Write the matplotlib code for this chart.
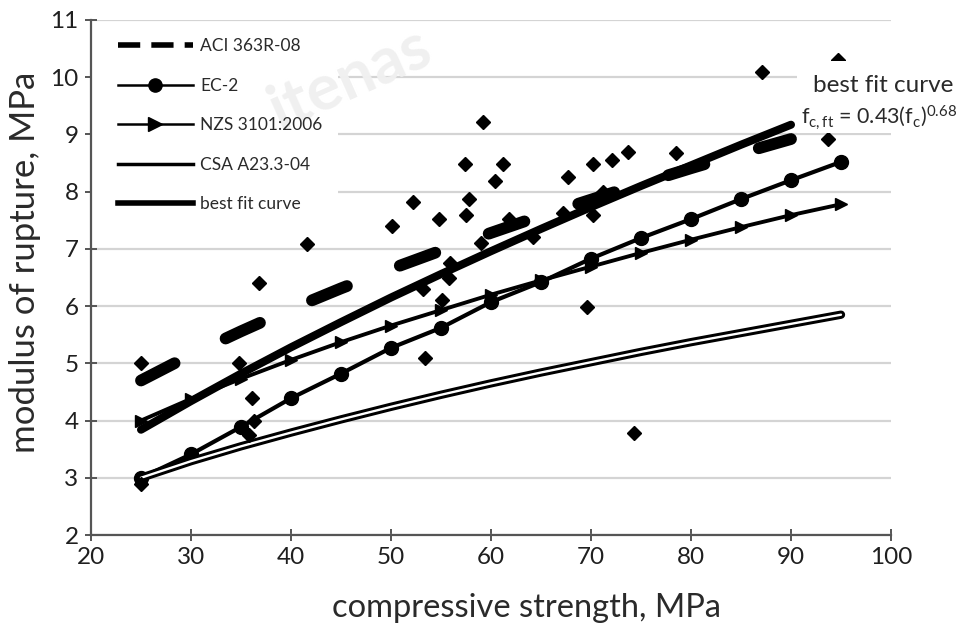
import matplotlib
matplotlib.use("Agg")
import matplotlib.pyplot as plt
from matplotlib.lines import Line2D
from matplotlib.patches import Rectangle

plt.rcParams['font.family'] = ['Lato', 'DejaVu Sans']
plt.rcParams['mathtext.fontset'] = 'custom'
plt.rcParams['mathtext.rm'] = 'Lato'
plt.rcParams['mathtext.it'] = 'Lato'

# ---- data ----
test_x = [25, 25, 34.8, 35.8, 36.3, 36.1, 36.8, 41.6, 50.1, 52.2, 53.2, 53.4, 54.8, 55.1,
          55.8, 55.9, 57.4, 57.5, 57.8, 59.0, 59.2, 60.4, 61.2, 61.8, 64.2, 67.2, 67.7,
          69.6, 70.2, 70.2, 71.2, 72.1, 73.7, 74.3, 78.5, 87.1, 93.7, 94.7]
test_y = [5.0, 2.9, 5.0, 3.75, 4.0, 4.39, 6.4, 7.08, 7.4, 7.82, 6.3, 5.1, 7.53, 6.1,
          6.5, 6.75, 8.49, 7.59, 7.88, 7.1, 9.21, 8.19, 8.49, 7.53, 7.2, 7.62, 8.26,
          5.98, 8.49, 7.59, 8.0, 8.55, 8.7, 3.78, 8.68, 10.09, 8.92, 10.3]

fc_aci = [25, 30, 35, 40, 45, 50, 55, 60, 65, 70, 75, 80, 85, 90]
fr_aci = [4.70, 5.15, 5.56, 5.95, 6.31, 6.65, 6.97, 7.28, 7.58, 7.86, 8.14, 8.41, 8.67, 8.92]

fc_ec2 = [25, 30, 35, 40, 45, 50, 55, 60, 65, 70, 75, 80, 85, 90, 95]
fr_ec2 = [3.0, 3.41, 3.89, 4.39, 4.82, 5.27, 5.62, 6.07, 6.42, 6.83, 7.19, 7.52, 7.87, 8.2, 8.52]

fc_nzs = [25, 30, 35, 40, 45, 50, 55, 60, 65, 70, 75, 80, 85, 90, 95]
fr_nzs = [4.0, 4.38, 4.73, 5.06, 5.37, 5.66, 5.93, 6.20, 6.45, 6.69, 6.93, 7.16, 7.38, 7.59, 7.78]

fc_csa = [25, 30, 35, 40, 45, 50, 55, 60, 65, 70, 75, 80, 85, 90, 95]
fr_csa = [3.0, 3.29, 3.55, 3.79, 4.02, 4.24, 4.45, 4.65, 4.84, 5.02, 5.20, 5.37, 5.53, 5.69, 5.85]

fc_fit = [25, 30, 35, 40, 45, 50, 55, 60, 65, 70, 75, 80, 85, 90]
fr_fit = [3.84, 4.34, 4.82, 5.28, 5.72, 6.15, 6.56, 6.96, 7.35, 7.73, 8.10, 8.46, 8.82, 9.17]

series_names = ["ACI 363R-08", "EC-2", "NZS 3101:2006", "CSA A23.3-04", "best fit curve"]
x_ticks = [20, 30, 40, 50, 60, 70, 80, 90, 100]
y_ticks = [2, 3, 4, 5, 6, 7, 8, 9, 10, 11]

# ---- figure ----
W, H = 963, 627
fig = plt.figure(figsize=(W / 100, H / 100), dpi=100)
ax = fig.add_axes([91 / W, 1 - 535 / H, 800 / W, 515 / H])
ax.set_xlim(20, 100)
ax.set_ylim(2, 11)
ax.set_xticks(x_ticks)
ax.set_yticks(y_ticks)
ax.set_axisbelow(True)
ax.yaxis.grid(True, color='#d4d4d4', lw=1.6)
for s in ['top', 'right']:
    ax.spines[s].set_visible(False)
for s in ['left', 'bottom']:
    ax.spines[s].set_color('#555555')
    ax.spines[s].set_linewidth(1.6)
ax.tick_params(direction='inout', length=8, width=1.4, color='#555555',
               labelsize=17.5, labelcolor='#1f1f1f', pad=5)

# white area behind legend (covers gridlines)
ax.add_patch(Rectangle((0, (535 - 215) / 515), (338 - 91) / 800, (215 - 25) / 515,
                       transform=ax.transAxes, facecolor='white', edgecolor='none', zorder=0.8))
# faint watermark
ax.text((350 - 91) / 800, (535 - 78) / 515, "itenas", transform=ax.transAxes, fontsize=46,
        fontweight='bold', color='#f0f0f0', rotation=24, ha='center', va='center',
        zorder=0.9, clip_on=False)

k = 'black'
ax.plot(test_x, test_y, linestyle='none', marker='D', ms=7, color=k, zorder=3)
ax.plot(fc_aci, fr_aci, color=k, lw=8.5, dashes=(3.2, 4.8), dash_capstyle='round', zorder=2)
ax.plot(fc_ec2, fr_ec2, color=k, lw=3, marker='o', ms=10, zorder=2)
ax.plot(fc_nzs, fr_nzs, color=k, lw=2.8, marker='>', ms=9, zorder=2)
ax.plot(fc_csa, fr_csa, color=k, lw=6, solid_capstyle='round', zorder=2)
ax.plot(fc_csa, fr_csa, color='white', lw=1.7, solid_capstyle='round', zorder=2.1)
ax.plot(fc_fit, fr_fit, color=k, lw=5.8, solid_capstyle='round', zorder=2)

# legend
handles = [
    Line2D([], [], color=k, lw=4, dashes=(4, 2), dash_capstyle='butt'),
    Line2D([], [], color=k, lw=1.8, marker='o', ms=9.5, markevery=[2]),
    Line2D([], [], color=k, lw=1.8, marker='>', ms=10, markevery=[2]),
    Line2D([], [], color=k, lw=2.5),
    Line2D([], [], color=k, lw=4),
]
leg = ax.legend(handles, series_names, loc='upper left',
                bbox_to_anchor=((118 - 91) / 800, (535 - 38) / 515),
                frameon=False, borderpad=0, borderaxespad=0, fontsize=12.5,
                handlelength=4.3, handletextpad=0.45, labelspacing=1.36,
                labelcolor='#2a2a2a')
leg.set_zorder(5)

# white box behind the annotation
ax.add_patch(Rectangle(((797 - 91) / 800, (535 - 133) / 515), (963 - 797) / 800, (133 - 61) / 515,
                       transform=ax.transAxes, facecolor='white', edgecolor='none',
                       zorder=4, clip_on=False))
ax.text(99.2, 9.86, "best fit curve", ha='center', va='center', fontsize=17.5,
        color='#2a2a2a', zorder=6, clip_on=False)
ax.text(98.8, 9.30, r"f$_{\mathrm{c,ft}}$ = 0.43(f$_{\mathrm{c}}$)$^{\mathrm{0.68}}$",
        ha='center', va='center', fontsize=15.5, color='#2a2a2a', zorder=6, clip_on=False)

fig.text(526 / W, 1 - 608 / H, "compressive strength, MPa", ha='center', va='center',
         fontsize=23.5, color='#2a2a2a')
fig.text(25 / W, 1 - 262 / H, "modulus of rupture, MPa", ha='center', va='center',
         fontsize=25, color='#2a2a2a', rotation=90)

fig.savefig("out.png", dpi=100)
